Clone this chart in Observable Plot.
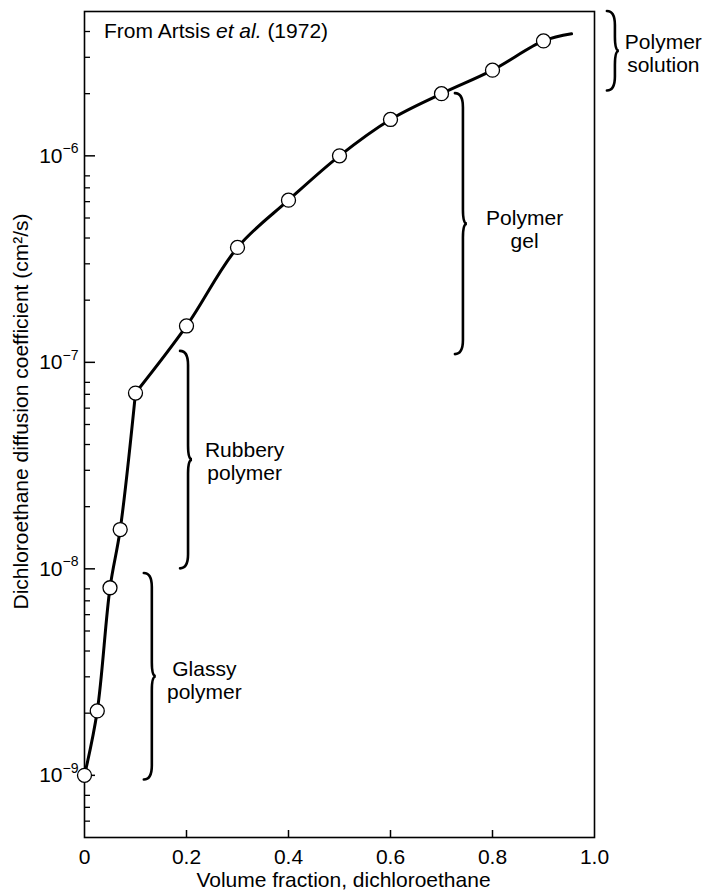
<!DOCTYPE html>
<html><head><meta charset="utf-8">
<script src="https://cdn.jsdelivr.net/npm/d3@7"></script>
<script src="https://cdn.jsdelivr.net/npm/@observablehq/plot@0.6"></script>
<style>
html,body{margin:0;padding:0;background:#fff;}
#chart svg{display:block;}
</style>
</head><body><div id="chart"></div>
<script>
// Measured points (volume fraction dichloroethane, diffusion coefficient cm^2/s)
const fraction  = [0, 0.025, 0.05, 0.07, 0.1, 0.2, 0.3, 0.4, 0.5, 0.6, 0.7, 0.8, 0.9];
const diffusion = [1.0e-9, 2.05e-9, 8.1e-9, 1.55e-8, 7.1e-8, 1.5e-7, 3.6e-7, 6.1e-7, 1.0e-6, 1.5e-6, 2.0e-6, 2.6e-6, 3.6e-6];
// Drawn curve: steep low-concentration branch and smooth upper branch (kink at 0.1)
const lowerCurveFraction  = [0, 0.025, 0.05, 0.07, 0.1];
const lowerCurveDiffusion = [1.0e-9, 2.05e-9, 8.1e-9, 1.55e-8, 7.1e-8];
const upperCurveFraction  = [0.1, 0.2, 0.3, 0.4, 0.5, 0.6, 0.7, 0.8, 0.9, 0.955];
const upperCurveDiffusion = [7.1e-8, 1.5e-7, 3.6e-7, 6.1e-7, 1.0e-6, 1.5e-6, 2.0e-6, 2.6e-6, 3.6e-6, 3.9e-6];

const xTicks = [0, 0.2, 0.4, 0.6, 0.8, 1.0];
const xTickLabels = ["0", "0.2", "0.4", "0.6", "0.8", "1.0"];
const xInnerTicks = [0.2, 0.4, 0.6, 0.8];
const decades = [1e-9, 1e-8, 1e-7, 1e-6];
const exponentLabels = ["\u22129", "\u22128", "\u22127", "\u22126"];
const minorTicks = [6e-10, 7e-10, 8e-10,
  2e-9, 3e-9, 4e-9, 5e-9, 6e-9, 7e-9, 8e-9,
  2e-8, 3e-8, 4e-8, 5e-8, 6e-8, 7e-8, 8e-8,
  2e-7, 3e-7, 4e-7, 5e-7, 6e-7, 7e-7, 8e-7,
  2e-6, 3e-6, 4e-6];

const regimeNames = ["Glassy\npolymer", "Rubbery\npolymer", "Polymer\ngel", "Polymer\nsolution"];
const braceX      = [0.133, 0.204, 0.743, 1.041];
const braceTop    = [9.5e-9, 1.13e-7, 2.0e-6, 5.0e-6];
const braceBottom = [9.5e-10, 1.0e-8, 1.09e-7, 2.06e-6];
const regimeLabelX = [0.235, 0.314, 0.863, 1.135];
const regimeLabelY = [2.9e-9, 3.33e-8, 4.4e-7, 3.13e-6];

const titleParts = ["From Artsis ", "et al.", " (1972)"];
const xLabel = "Volume fraction, dichloroethane";
const yLabel = "Dichloroethane diffusion coefficient (cm\u00b2/s)";

const points = fraction.map((f, i) => ({f, d: diffusion[i]}));
const lowerCurve = lowerCurveFraction.map((f, i) => ({f, d: lowerCurveDiffusion[i]}));
const upperCurve = upperCurveFraction.map((f, i) => ({f, d: upperCurveDiffusion[i]}));
const regimes = regimeNames.map((name, i) => ({name, x: braceX[i], top: braceTop[i], bottom: braceBottom[i], lx: regimeLabelX[i], ly: regimeLabelY[i]}));
const decadeRows = decades.map((v, i) => ({v, e: exponentLabels[i]}));

function braces(index, scales) {
  const g = d3.create("svg:g")
    .attr("fill", "none").attr("stroke", "black")
    .attr("stroke-width", 2.6).attr("stroke-linecap", "round");
  regimes.forEach(r => {
    const sx = scales.x(r.x);
    const y0 = scales.y(r.top);
    const y1 = scales.y(r.bottom);
    const ym = (y0 + y1) / 2;
    const tip = sx - 8, pt = sx + 4, c = 14;
    const p = d3.path();
    p.moveTo(tip, y0);
    p.quadraticCurveTo(sx, y0, sx, y0 + c);
    p.lineTo(sx, ym - c);
    p.quadraticCurveTo(sx, ym, pt, ym);
    p.quadraticCurveTo(sx, ym, sx, ym + c);
    p.lineTo(sx, y1 - c);
    p.quadraticCurveTo(sx, y1, tip, y1);
    g.append("path").attr("d", p.toString());
  });
  return g.node();
}

function title(index, scales) {
  const x0 = scales.x(0), yTop = scales.y(5e-6);
  const t = d3.create("svg:text")
    .attr("x", x0 + 20)
    .attr("y", yTop + 27)
    .attr("text-anchor", "start")
    .attr("font-size", 21).attr("fill", "black");
  t.append("tspan").text(titleParts[0]);
  t.append("tspan").attr("font-style", "italic").text(titleParts[1]);
  t.append("tspan").text(titleParts[2]);
  return t.node();
}

const chart = Plot.plot({
  width: 708,
  height: 894,
  marginLeft: 84,
  marginRight: 114,
  marginTop: 11,
  marginBottom: 57,
  style: {fontFamily: "'Liberation Sans', Arial, Helvetica, sans-serif", fontSize: "21px", background: "white", color: "black", overflow: "visible"},
  x: {domain: [0, 1], axis: null},
  y: {type: "log", domain: [5e-10, 5e-6], axis: null},
  marks: [
    Plot.axisY(minorTicks, {anchor: "right", frameAnchor: "left", tickSize: 5, text: null, label: null, strokeWidth: 1.3}),
    Plot.axisY(decades, {anchor: "right", frameAnchor: "left", tickSize: 10, text: null, label: null, strokeWidth: 1.5}),
    Plot.axisX(xInnerTicks, {anchor: "top", frameAnchor: "bottom", tickSize: 8, text: null, label: null, strokeWidth: 1.5}),
    Plot.axisX(xTicks, {anchor: "bottom", tickSize: 0, tickPadding: 12, tickFormat: (d, i) => xTickLabels[i], label: null, fontSize: 21}),
    Plot.text(decadeRows, {y: "v", frameAnchor: "left", text: () => "10", textAnchor: "end", dx: -22, fontSize: 21}),
    Plot.text(decadeRows, {y: "v", frameAnchor: "left", text: "e", textAnchor: "end", dx: -6, dy: -7, fontSize: 14}),
    Plot.text([xLabel], {frameAnchor: "bottom", text: d => d, textAnchor: "middle", lineAnchor: "top", dy: 35, dx: 4, fontSize: 21}),
    Plot.text([yLabel], {frameAnchor: "left", text: d => d, textAnchor: "middle", rotate: -90, dx: -63, dy: -13, fontSize: 21}),
    Plot.frame({stroke: "black", strokeWidth: 1.6}),
    Plot.line(lowerCurve, {x: "f", y: "d", curve: "catmull-rom", stroke: "black", strokeWidth: 3}),
    Plot.line(upperCurve, {x: "f", y: "d", curve: "catmull-rom", stroke: "black", strokeWidth: 3}),
    Plot.dot(points, {x: "f", y: "d", r: 7, fill: "white", stroke: "black", strokeWidth: 1.3}),
    braces,
    Plot.text(regimes, {x: "lx", y: "ly", text: "name", lineHeight: 1.1, fontSize: 21, textAnchor: "middle"}),
    title
  ]
});
document.getElementById("chart").appendChild(chart);
</script>
</body></html>
